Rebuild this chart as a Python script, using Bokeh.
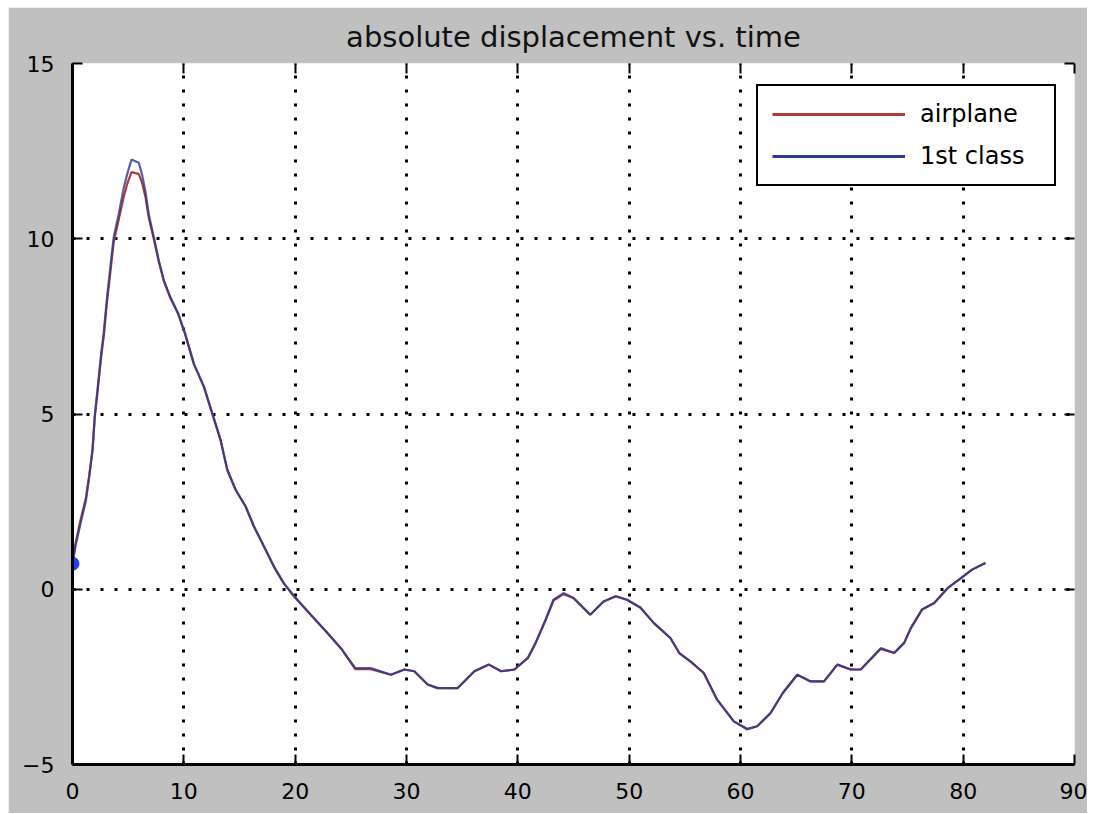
from bokeh.plotting import figure
from bokeh.models import (Legend, LegendItem, LinearAxis, FixedTicker, Range1d, Title)
from bokeh.embed import file_html
from bokeh.resources import INLINE

# ---------------- data ----------------
time_blue = [0, 0.3, 0.7, 1.2, 1.5, 1.8, 2.0, 2.3, 2.6, 2.8, 3.1, 3.4, 3.7, 4.15, 4.6, 4.9,
             5.3, 5.95, 6.25, 6.55, 6.85, 7.3, 7.75, 8.2, 8.8, 9.5, 10.1, 10.9, 11.8, 12.55,
             13.3, 13.9, 14.65, 15.55, 16.3, 17.2, 18.1, 19.0, 19.9, 21.4, 22.9, 24.2, 25.4,
             26.8, 28.6, 29.8, 30.7, 31.9, 32.8, 34.6, 36.1, 37.4, 38.5, 39.7, 40.9, 41.6,
             42.5, 43.2, 44.1, 45.0, 46.5, 47.7, 48.8, 49.8, 51.0, 52.2, 53.7, 54.5, 55.5,
             56.7, 57.9, 59.4, 60.6, 61.5, 62.7, 63.8, 65.1, 66.3, 67.5, 68.7, 69.9, 70.8,
             72.6, 73.8, 74.7, 75.3, 76.3, 77.4, 78.6, 79.8, 80.8, 82.0]
disp_blue = [0.73, 1.28, 1.85, 2.52, 3.19, 3.96, 4.95, 5.85, 6.80, 7.30, 8.33, 9.19, 10.05, 10.7,
             11.45, 11.83, 12.26, 12.17, 11.83, 11.35, 10.7, 10.05, 9.38, 8.81, 8.33, 7.86, 7.30,
             6.43, 5.78, 5.02, 4.26, 3.41, 2.84, 2.36, 1.79, 1.22, 0.64, 0.16, -0.20, -0.73,
             -1.25, -1.72, -2.25, -2.25, -2.44, -2.29, -2.34, -2.72, -2.82, -2.82, -2.34, -2.15,
             -2.34, -2.29, -1.96, -1.53, -0.87, -0.30, -0.11, -0.25, -0.73, -0.35, -0.20, -0.30,
             -0.52, -0.96, -1.39, -1.82, -2.06, -2.39, -3.15, -3.77, -4.00, -3.91, -3.53, -2.96,
             -2.44, -2.63, -2.63, -2.15, -2.29, -2.29, -1.68, -1.82, -1.53, -1.11, -0.58, -0.39,
             0.03, 0.32, 0.56, 0.75]

time_red = [0, 0.3, 0.7, 1.2, 1.5, 1.8, 2.0, 2.3, 2.6, 2.8, 3.1, 3.4, 3.7, 4.15, 4.6, 4.9,
            5.3, 5.95, 6.25, 6.55, 6.85, 7.3, 7.75, 8.2, 8.8, 9.5, 10.1, 10.9, 11.8, 12.55,
            13.3, 13.9, 14.65, 15.55, 16.3, 17.2, 18.1, 19.0, 19.9, 21.4, 22.9, 24.2, 25.4,
            26.8, 28.6, 29.8, 30.7, 31.9, 32.8, 34.6, 36.1, 37.4, 38.5, 39.7, 40.9, 41.6,
            42.5, 43.2, 44.1, 45.0, 46.5, 47.7, 48.8, 49.8, 51.0, 52.2, 53.7, 54.5, 55.5,
            56.7, 57.9, 59.4, 60.6, 61.5, 62.7, 63.8, 65.1, 66.3, 67.5, 68.7, 69.9, 70.8,
            72.6, 73.8, 74.7, 75.3, 76.3, 77.4, 78.6, 79.8, 80.8, 82.0]
disp_red = [0.75, 1.35, 1.95, 2.60, 3.25, 4.00, 4.90, 5.80, 6.70, 7.20, 8.20, 9.05, 9.90, 10.55,
            11.20, 11.55, 11.90, 11.85, 11.60, 11.20, 10.60, 10.00, 9.35, 8.80, 8.30, 7.85, 7.30,
            6.43, 5.78, 5.02, 4.26, 3.41, 2.84, 2.36, 1.79, 1.22, 0.64, 0.16, -0.20, -0.73,
            -1.25, -1.72, -2.28, -2.28, -2.44, -2.29, -2.34, -2.72, -2.82, -2.82, -2.34, -2.15,
            -2.34, -2.29, -1.96, -1.53, -0.87, -0.32, -0.14, -0.25, -0.73, -0.35, -0.20, -0.30,
            -0.52, -0.96, -1.39, -1.82, -2.06, -2.39, -3.15, -3.77, -3.98, -3.91, -3.53, -2.96,
            -2.44, -2.63, -2.63, -2.15, -2.29, -2.29, -1.70, -1.82, -1.53, -1.11, -0.58, -0.39,
            0.03, 0.32, 0.56, 0.75]

start_time = [0]
start_disp = [0.73]

x_ticks = [0, 10, 20, 30, 40, 50, 60, 70, 80, 90]
y_ticks = [-5, 0, 5, 10, 15]

series_labels = ["airplane", "1st class"]
title_text = "absolute displacement vs. time"

# ---------------- styling ----------------
RED = "#b03a36"
BLUE = "#2a3a96"
GRAY = "#c0c0c0"
FONT = "DejaVu Sans"

p = figure(frame_width=1002, frame_height=701,
           min_border_left=64, min_border_right=13, min_border_top=56, min_border_bottom=49,
           x_range=Range1d(0, 90), y_range=Range1d(-5, 15),
           output_backend="svg", toolbar_location=None,
           background_fill_color="white", border_fill_color=GRAY,
           outline_line_color=None)
p.margin = (7, 8, 0, 8)

p.title = Title(text=title_text, align="center", text_font=FONT,
                text_font_size="29px", text_font_style="normal", text_color="#111111",
                standoff=20)

# axes (bottom/left with labels; top/right only inward ticks)
for ax in (p.xaxis[0], p.yaxis[0]):
    ax.axis_line_color = "black"
    ax.axis_line_width = 3
    ax.major_tick_in = 10
    ax.major_tick_out = 0
    ax.major_tick_line_color = "black"
    ax.major_tick_line_width = 2
    ax.minor_tick_line_color = None
    ax.major_label_text_font = FONT
    ax.major_label_text_font_size = "22px"
    ax.major_label_text_color = "black"
p.xaxis[0].ticker = FixedTicker(ticks=x_ticks)
p.yaxis[0].ticker = FixedTicker(ticks=y_ticks)
p.xaxis[0].major_label_standoff = 18
p.yaxis[0].major_label_standoff = 18

top = LinearAxis(ticker=FixedTicker(ticks=x_ticks),
                 major_label_overrides={t: "" for t in x_ticks})
right = LinearAxis(ticker=FixedTicker(ticks=y_ticks),
                   major_label_overrides={t: "" for t in y_ticks})
for ax in (top, right):
    ax.axis_line_color = None
    ax.major_tick_in = 10
    ax.major_tick_out = 0
    ax.major_tick_line_color = "black"
    ax.major_tick_line_width = 2
    ax.minor_tick_line_color = None
    ax.major_label_text_font_size = "10px"
    ax.major_label_standoff = 0
p.add_layout(top, "above")
p.add_layout(right, "right")

# dotted grid
for g in (p.xgrid[0], p.ygrid[0]):
    g.grid_line_color = "black"
    g.grid_line_width = 3
    g.grid_line_dash = "3 11"
    g.grid_line_alpha = 1.0
p.xgrid[0].ticker = FixedTicker(ticks=x_ticks)
p.ygrid[0].ticker = FixedTicker(ticks=y_ticks)

# data lines
p.line(time_red, disp_red, line_color=RED, line_width=2.2)
p.line(time_blue, disp_blue, line_color=BLUE, line_width=2.2, line_alpha=0.8)
p.scatter(start_time, start_disp, size=13, fill_color="#1f3cff", line_color="#1f3cff")

# legend (single-point line renderers so the legend colours are solid)
leg_red = p.line(time_red[:1], disp_red[:1], line_color=RED, line_width=3)
leg_blue = p.line(time_blue[:1], disp_blue[:1], line_color=BLUE, line_width=3)
legend = Legend(items=[LegendItem(label=series_labels[0], renderers=[leg_red]),
                       LegendItem(label=series_labels[1], renderers=[leg_blue])],
                location=(684, 578),
                glyph_width=133, glyph_height=26, label_standoff=15,
                label_width=120, spacing=14, padding=14, margin=0,
                label_text_font=FONT, label_text_font_size="24px", label_text_color="black",
                border_line_color="black", border_line_width=2, border_line_alpha=1.0,
                background_fill_color="white", background_fill_alpha=1.0)
p.add_layout(legend, "center")

open("out.html", "w").write(file_html(p, INLINE))
